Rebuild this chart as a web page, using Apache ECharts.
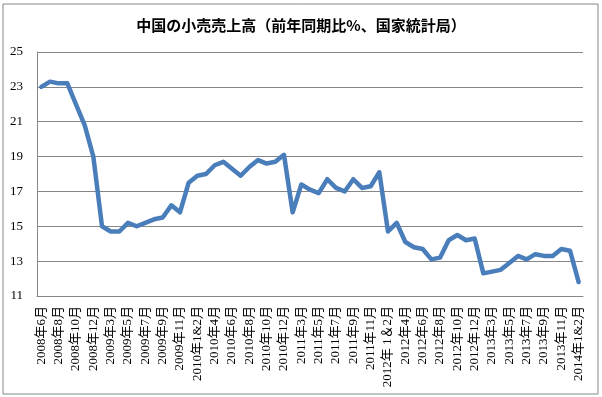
<!DOCTYPE html>
<html><head><meta charset="utf-8">
<script src="https://cdn.jsdelivr.net/npm/echarts@6/dist/echarts.min.js"></script>
<style>html,body{margin:0;padding:0;background:#fff}#c{width:602px;height:397px}</style>
</head><body><div id="c"></div>
<script>
var categories = [
 "2008年6月","2008年7月","2008年8月","2008年9月","2008年10月","2008年11月","2008年12月",
 "2009年1&2月","2009年3月","2009年4月","2009年5月","2009年6月","2009年7月","2009年8月","2009年9月","2009年10月","2009年11月","2009年12月",
 "2010年1&2月","2010年3月","2010年4月","2010年5月","2010年6月","2010年7月","2010年8月","2010年9月","2010年10月","2010年11月","2010年12月",
 "2011年1&2月","2011年3月","2011年4月","2011年5月","2011年6月","2011年7月","2011年8月","2011年9月","2011年10月","2011年11月","2011年12月",
 "2012年 1＆2月","2012年3月","2012年4月","2012年5月","2012年6月","2012年7月","2012年8月","2012年9月","2012年10月","2012年11月","2012年12月",
 "2013年1&2月","2013年3月","2013年4月","2013年5月","2013年6月","2013年7月","2013年8月","2013年9月","2013年10月","2013年11月","2013年12月",
 "2014年1&2月"
];
var retailGrowth = [
 23.0,23.3,23.2,23.2,22.0,20.8,19.0,
 15.0,14.7,14.7,15.2,15.0,15.2,15.4,15.5,16.2,15.8,17.5,
 17.9,18.0,18.5,18.7,18.3,17.9,18.4,18.8,18.6,18.7,19.1,
 15.8,17.4,17.1,16.9,17.7,17.2,17.0,17.7,17.2,17.3,18.1,
 14.7,15.2,14.1,13.8,13.7,13.1,13.2,14.2,14.5,14.2,14.3,
 12.3,12.4,12.5,12.9,13.3,13.1,13.4,13.3,13.3,13.7,13.6,
 11.8
];
var yMin = 11, yMax = 25, yStep = 2;
var titleText = "中国の小売売上高（前年同期比%、国家統計局）";

var serif = "'Liberation Serif','DejaVu Serif','Noto Sans CJK JP',serif";
var chart = echarts.init(document.getElementById('c'));
chart.setOption({
  animation: false,
  backgroundColor: '#fff',
  graphic: [{type:'rect', shape:{x:3,y:4,width:595,height:390}, style:{fill:'none', stroke:'#868686', lineWidth:1}, z:-1}],
  title: {text: titleText, left: 'center', top: 13,
    textStyle:{fontFamily:"'Noto Sans CJK JP',sans-serif", fontWeight:'bold', fontSize:15, color:'#000'}},
  grid: {left: 37, right: 19, top: 52, bottom: 101, containLabel:false},
  xAxis: {type:'category', data: categories, boundaryGap: true,
    axisLine:{lineStyle:{color:'#868686', width:1}},
    axisTick:{show:false},
    axisLabel:{interval:1, rotate:90, margin:10, fontSize:13, color:'#000', fontFamily: serif}},
  yAxis: {type:'value', min:yMin, max:yMax, interval:yStep,
    axisLine:{show:true, lineStyle:{color:'#868686', width:1}},
    axisTick:{show:false},
    splitLine:{lineStyle:{color:'#868686', width:1}},
    axisLabel:{fontSize:13, color:'#000', fontFamily: serif, margin:14}},
  series: [{type:'line', data: retailGrowth, symbol:'none',
    lineStyle:{color:'#4a7ebb', width:4.5, join:'round', cap:'round'}}]
});
</script></body></html>
